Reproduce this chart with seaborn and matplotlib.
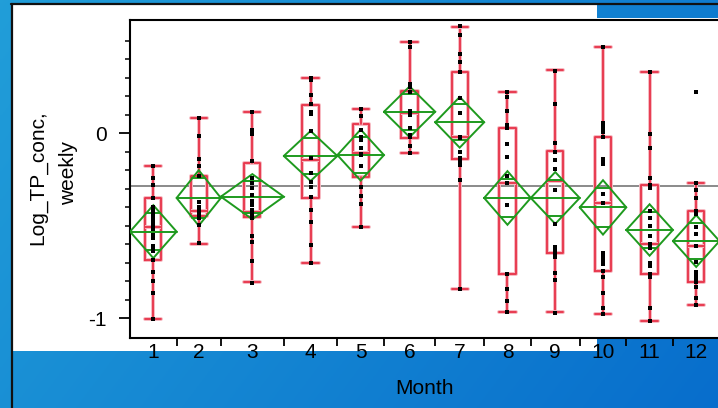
import numpy as np
import pandas as pd
import matplotlib
matplotlib.use("Agg")
import matplotlib.pyplot as plt
import matplotlib.patheffects as pe
from matplotlib.patches import Polygon
import seaborn as sns

# ---------------- data ----------------
months = [1, 2, 3, 4, 5, 6, 7, 8, 9, 10, 11, 12]
counts = [20, 19, 27, 23, 20, 22, 21, 20, 21, 20, 20, 20]
means = [-0.533, -0.351, -0.344, -0.124, -0.119, 0.115, 0.058, -0.351, -0.351, -0.402, -0.524, -0.584]
ci_half = [0.143, 0.150, 0.122, 0.135, 0.138, 0.137, 0.137, 0.145, 0.140, 0.147, 0.139, 0.140]
q1 = [-0.686, -0.449, -0.456, -0.353, -0.240, -0.029, -0.142, -0.760, -0.647, -0.744, -0.762, -0.804]
median = [-0.506, -0.422, -0.429, -0.146, -0.106, 0.106, -0.020, -0.272, -0.258, -0.377, -0.602, -0.609]
q3 = [-0.353, -0.231, -0.160, 0.151, 0.049, 0.227, 0.332, 0.025, -0.097, -0.023, -0.281, -0.422]
whisker_lo = [-1.007, -0.598, -0.805, -0.703, -0.510, -0.110, -0.845, -0.969, -0.969, -0.978, -1.016, -0.930]
whisker_hi = [-0.177, 0.083, 0.115, 0.299, 0.128, 0.494, 0.575, 0.223, 0.341, 0.463, 0.328, -0.272]
grand_mean = -0.287

pts_m1 = [-0.177, -0.243, -0.283, -0.353, -0.40, -0.42, -0.44, -0.46, -0.48, -0.50, -0.51, -0.52,
          -0.55, -0.57, -0.61, -0.625, -0.64, -0.686, -0.749, -0.798, -0.863, -1.007]
pts_m2 = [0.083, -0.014, -0.139, -0.177, -0.231, -0.375, -0.398, -0.416, -0.429, -0.443, -0.461,
          -0.497, -0.596]
pts_m3 = [0.115, 0.016, -0.005, -0.153, -0.245, -0.272, -0.299, -0.335, -0.366, -0.389, -0.416,
          -0.434, -0.452, -0.461, -0.557, -0.588, -0.690, -0.809]
pts_m4 = [0.299, 0.286, 0.205, 0.155, 0.115, 0.103, 0.012, -0.137, -0.215, -0.263, -0.290, -0.344,
          -0.416, -0.483, -0.605, -0.704]
pts_m5 = [0.128, 0.092, 0.016, -0.020, -0.038, -0.083, -0.114, -0.119, -0.177, -0.290, -0.339,
          -0.386, -0.510]
pts_m6 = [0.490, 0.463, 0.263, 0.247, 0.223, 0.121, 0.110, 0.097, 0.025, -0.011, -0.020, -0.070,
          -0.106]
pts_m7 = [0.578, 0.530, 0.425, 0.386, 0.332, 0.187, 0.110, -0.020, -0.029, -0.101, -0.137, -0.155,
          -0.173, -0.254, -0.845]
pts_m8 = [0.223, 0.196, 0.119, 0.043, 0.025, -0.061, -0.128, -0.232, -0.272, -0.389, -0.760, -0.845,
          -0.908, -0.969]
pts_m9 = [0.337, 0.157, -0.052, -0.101, -0.146, -0.195, -0.310, -0.492, -0.614, -0.632, -0.647,
          -0.672, -0.755, -0.795, -0.971]
pts_m10 = [0.463, 0.052, 0.038, 0.025, 0.003, -0.023, -0.142, -0.155, -0.168, -0.330, -0.377,
           -0.650, -0.672, -0.690, -0.710, -0.744, -0.777, -0.863, -0.948, -0.978]
pts_m11 = [0.328, -0.005, -0.079, -0.241, -0.281, -0.299, -0.422, -0.461, -0.501, -0.557, -0.602,
           -0.623, -0.701, -0.717, -0.762, -0.777, -0.948, -1.016]
pts_m12 = [0.223, -0.272, -0.308, -0.350, -0.422, -0.440, -0.510, -0.548, -0.609, -0.699, -0.753,
           -0.764, -0.777, -0.790, -0.804, -0.831, -0.890, -0.930]
points = [pts_m1, pts_m2, pts_m3, pts_m4, pts_m5, pts_m6, pts_m7, pts_m8, pts_m9, pts_m10,
          pts_m11, pts_m12]

# ---------------- style ----------------
sns.set_theme(style="ticks")
plt.rcParams["font.family"] = ["Liberation Sans", "DejaVu Sans"]

RED = "#e8364c"
GREEN = "#1e9a1e"
W, H = 718, 408
fig = plt.figure(figsize=(W / 100, H / 100), dpi=100)

# background (slide-like gradient and white panel)
bg = fig.add_axes([0, 0, 1, 1])
bg.set_xlim(0, W)
bg.set_ylim(H, 0)
bg.axis("off")
gx, gy = np.meshgrid(np.linspace(0, 1, 256), np.linspace(0, 1, 256))
t = 0.7 * gx + 0.3 * gy
c0 = np.array([0.13, 0.62, 0.85])
c1 = np.array([0.03, 0.43, 0.80])
img = c0[None, None, :] * (1 - t[..., None]) + c1[None, None, :] * t[..., None]
bg.imshow(img, extent=[0, W, H, 0], aspect="auto", zorder=0)
bg.add_patch(Polygon([(12, 5), (597, 5), (597, 18), (W, 18), (W, 338), (597, 338),
                      (597, 351), (12, 351)], closed=True, facecolor="white",
                     edgecolor="none", zorder=1))
bg.plot([11, W], [4, 4], color="#111111", lw=1.6, zorder=2)
bg.plot([11.5, 11.5], [4, H], color="#111111", lw=1.6, zorder=2)

# main axes
edges = np.concatenate([[0], np.cumsum(counts)])
centers = (edges[:-1] + edges[1:]) / 2.0
ax = fig.add_axes([130 / W, 1 - 338 / H, 589.5 / W, 318 / H])
ax.set_facecolor("none")

ax.axhline(grand_mean, color="#8a8a8a", lw=1.4, zorder=1)

stats = []
for i in range(len(months)):
    stats.append(dict(med=median[i], q1=q1[i], q3=q3[i], whislo=whisker_lo[i],
                      whishi=whisker_hi[i], fliers=[]))
halo = [pe.Stroke(linewidth=2.8, foreground="#f6b9c1"), pe.Normal()]
bp = ax.bxp(stats, positions=centers, widths=7, capwidths=7, showfliers=False,
            boxprops=dict(color=RED, lw=1.35), whiskerprops=dict(color=RED, lw=1.35),
            capprops=dict(color=RED, lw=1.35), medianprops=dict(color=RED, lw=1.35),
            manage_ticks=False, zorder=2)
for key in ["boxes", "whiskers", "caps", "medians"]:
    for artist in bp[key]:
        artist.set_path_effects(halo)

# means diamonds
for i in range(len(months)):
    left, right, mid = edges[i], edges[i + 1], centers[i]
    m, c = means[i], ci_half[i]
    ax.plot([left, mid, right, mid, left], [m, m + c, m, m - c, m], color=GREEN, lw=1.4,
            zorder=3, solid_joinstyle="miter")
    ax.plot([left, right], [m, m], color=GREEN, lw=1.4, zorder=3)
    ov = c / np.sqrt(2)
    hw = (right - left) / 2.0 * (1 - 1 / np.sqrt(2))
    for s in (1, -1):
        ax.plot([mid - hw, mid + hw], [m + s * ov, m + s * ov], color=GREEN, lw=1.4, zorder=3)

# points
df = pd.DataFrame({
    "xpos": np.concatenate([[centers[i]] * len(p) for i, p in enumerate(points)]),
    "value": np.concatenate(points),
})
sns.scatterplot(data=df, x="xpos", y="value", marker="s", s=9, color="black", linewidth=0,
                ax=ax, zorder=5, legend=False)

ax.set_xlim(0, edges[-1])
ax.set_ylim(-1.108, 0.611)

for sp in ["left", "bottom", "top"]:
    ax.spines[sp].set_visible(True)
    ax.spines[sp].set_color("black")
    ax.spines[sp].set_linewidth(1.5)
ax.spines["right"].set_visible(False)

ax.set_xticks(centers)
ax.set_xticklabels([str(m) for m in months])
ax.set_xticks(edges[1:-1], minor=True)
ax.tick_params(axis="x", which="major", length=0, labelsize=15, pad=3.5, labelcolor="black")
ax.tick_params(axis="x", which="minor", length=5.8, width=1.3, direction="out", color="black")

ax.set_yticks([-1, 0])
ax.set_yticklabels(["-1", "0"])
ax.set_yticks(np.round(np.arange(-1.0, 0.55, 0.1), 2), minor=True)
ax.tick_params(axis="y", which="major", length=8, width=1.3, labelsize=15, pad=9,
               direction="out", color="black", labelcolor="black")
ax.tick_params(axis="y", which="minor", length=3.6, width=1.1, direction="out", color="black")

ax.set_xlabel("Month", fontsize=15, labelpad=12, color="black")
ax.set_ylabel("")
fig.text(38 / W, 1 - 178 / H, "Log_TP_conc,", rotation=90, ha="center", va="center",
         fontsize=15, color="black")
fig.text(69 / W, 1 - 173 / H, "weekly", rotation=90, ha="center", va="center",
         fontsize=15, color="black")

fig.savefig("out.png", dpi=100)
